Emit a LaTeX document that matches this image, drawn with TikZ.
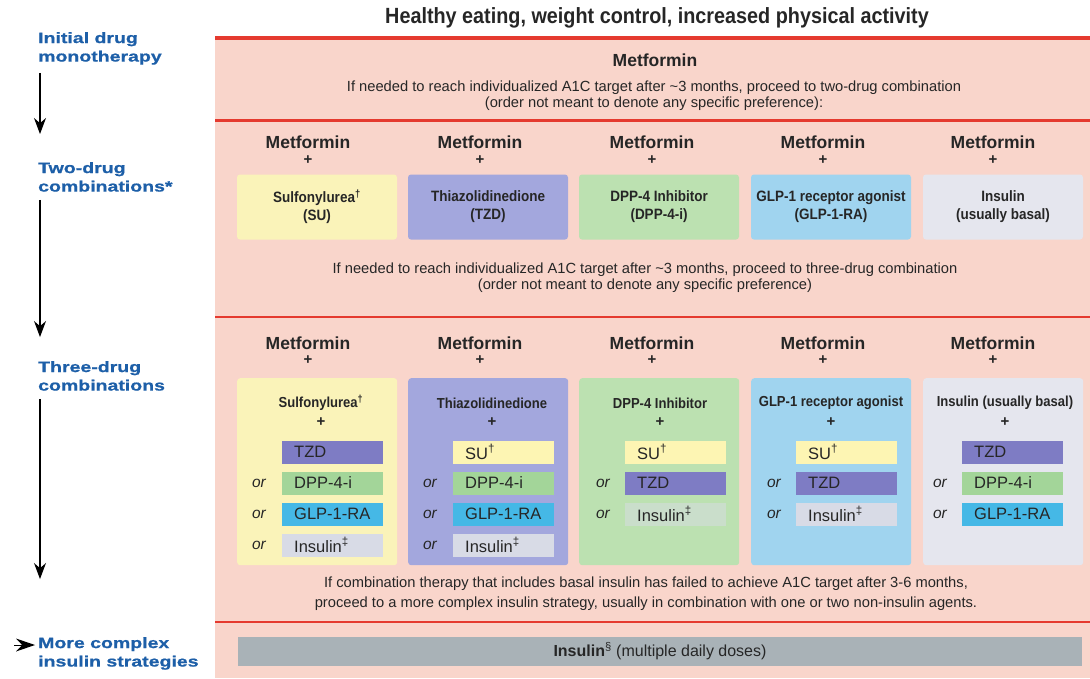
\documentclass[tikz,border=0pt]{standalone}
\usepackage{fontspec}
\setmainfont{Liberation Sans}
\newfontfamily\narrowfont{Liberation Sans}[FakeStretch=0.9]
\newfontfamily\widefont{Liberation Sans}[FakeStretch=1.3, BoldFeatures={FakeBold=0.8}]
\usetikzlibrary{arrows.meta}

\definecolor{bandpink}{HTML}{F9D5CB}
\definecolor{rulered}{HTML}{E53A2F}
\definecolor{labblue}{HTML}{1D5FA8}
\definecolor{inkgray}{HTML}{262626}
\definecolor{suyellow}{HTML}{FAF3B9}
\definecolor{supill}{HTML}{FDF5B3}
\definecolor{tzdblue}{HTML}{A3A7DD}
\definecolor{tzdpill}{HTML}{7E7CC4}
\definecolor{dppgreen}{HTML}{BCE1B1}
\definecolor{dpppill}{HTML}{A3D599}
\definecolor{glpblue}{HTML}{A0D4EF}
\definecolor{glppill}{HTML}{45B8E6}
\definecolor{insgray}{HTML}{E5E6EE}
\definecolor{inspill}{HTML}{D8DBE6}
\definecolor{barblue}{HTML}{A9B2B7}

\tikzset{
    steplabel/.style={anchor=north west, inner sep=0pt, align=left, text=labblue,
        font=\widefont\bfseries\fontsize{15}{18.5}\selectfont},
    metf/.style={inner sep=0pt, font=\bfseries\fontsize{17.5}{20}\selectfont},
    plussign/.style={inner sep=0pt, font=\bfseries\fontsize{15}{18}\selectfont},
    note/.style={align=center, inner sep=0pt, font=\fontsize{14.7}{16}\selectfont},
    twobox/.style={fill=#1, rounded corners=3pt, minimum width=160pt, minimum height=65pt,
        align=center, inner sep=0pt, font=\narrowfont\bfseries\fontsize{15}{18}\selectfont},
    tallbox/.style={fill=#1, rounded corners=3pt, minimum width=160pt, minimum height=187pt,
        anchor=north west, inner sep=0pt},
    colhead/.style={inner sep=0pt, font=\narrowfont\bfseries\fontsize{14.5}{18}\selectfont},
    pill/.style={fill=#1, anchor=west, minimum height=23pt, text width=77pt, inner xsep=12pt,
        inner ysep=0pt, font=\fontsize{16.5}{18}\selectfont},
    ortext/.style={inner sep=0pt, font=\itshape\fontsize{15.5}{18}\selectfont},
    flow/.style={-{Stealth[length=16pt,width=12pt]}, line width=1.1pt},
}

\begin{document}
\begin{tikzpicture}[x=1pt, y=-1pt, every node/.style={text=inkgray}]
    \useasboundingbox (0,0) rectangle (1090,678);
    % Pink band and the red rules between the steps.
        \fill[bandpink] (215,38) rectangle (1090,678);
        \draw[rulered, line width=3.5pt] (215,38) -- (1090,38);
        \draw[rulered, line width=3pt] (215,120) -- (1090,120);
        \draw[rulered, line width=2.5pt] (215,317) -- (1090,317);
        \draw[rulered, line width=2pt] (215,622) -- (1090,622);
    % Step labels on the left and the arrows between them.
        \node[steplabel] (initial) at (38,32) {Initial drug\\monotherapy};
        \node[steplabel] (twodrug) at (38,162) {Two-drug\\combinations*};
        \node[steplabel] (threedrug) at (38,361) {Three-drug\\combinations};
        \node[steplabel] (complex) at (38,637) {More complex\\insulin strategies};
        \draw[flow] ([xshift=2pt,yshift=-8pt]initial.south west) -- ([xshift=2pt,yshift=28pt]twodrug.north west);
        \draw[flow] ([xshift=2pt,yshift=-8pt]twodrug.south west) -- ([xshift=2pt,yshift=24pt]threedrug.north west);
        \draw[flow] ([xshift=2pt,yshift=-8pt]threedrug.south west) -- ([xshift=2pt,yshift=58pt]complex.north west);
        \draw[-{Stealth[length=19pt,width=13pt]}, line width=0pt] ([xshift=-24pt,yshift=-8pt]complex.north west) -- ([xshift=-3pt,yshift=-8pt]complex.north west);
    % Lifestyle header and metformin.
        \node[font=\narrowfont\bfseries\fontsize{22}{26}\selectfont, inner sep=0pt] (lifestyle) at (657,18)
            {Healthy eating, weight control, increased physical activity};
        \node[metf] (mono) at (655,60) {Metformin};
        \node[note] (mononote) at (654,96) {If needed to reach individualized A1C target after \textasciitilde3 months, proceed to two-drug combination\\(order not meant to denote any specific preference):};
    % Two-drug combinations.
        \foreach \x/\n in {308/su,480/tzd,652/dpp,823/glp,993/ins}{
            \node[metf] (twohead\n) at (\x,142) {Metformin};
            \node[plussign] (twoplus\n) at (\x,160) {+};
        }
        \node[twobox=suyellow] (twosu) at (317,207) {Sulfonylurea\textsuperscript{†}\\(SU)};
        \node[twobox=tzdblue] (twotzd) at (488,207) {Thiazolidinedione\\(TZD)};
        \node[twobox=dppgreen] (twodpp) at (659,207) {DPP-4 Inhibitor\\(DPP-4-i)};
        \node[twobox=glpblue] (twoglp) at (831,207) {GLP-1 receptor agonist\\(GLP-1-RA)};
        \node[twobox=insgray] (twoins) at (1003,207) {Insulin\\(usually basal)};
        \node[note] (twonote) at (645,278) {If needed to reach individualized A1C target after \textasciitilde3 months, proceed to three-drug combination\\(order not meant to denote any specific preference)};
    % Three-drug combinations.
        \foreach \x/\n in {308/su,480/tzd,652/dpp,823/glp,993/ins}{
            \node[metf] (threehead\n) at (\x,343) {Metformin};
            \node[plussign] (threeplus\n) at (\x,360) {+};
        }
        \node[tallbox=suyellow] (colsu) at (237,378) {};
        \node[tallbox=tzdblue] (coltzd) at (408,378) {};
        \node[tallbox=dppgreen] (coldpp) at (579,378) {};
        \node[tallbox=glpblue] (colglp) at (751,378) {};
        \node[tallbox=insgray] (colins) at (923,378) {};
        % sulfonylurea column
        \node[colhead] at (321,403) {Sulfonylurea\textsuperscript{†}};
        \node[plussign] at (321,422) {+};
        \node[pill=tzdpill] (su1) at (282,452) {TZD};
        \node[ortext] at (259,483) {or}; \node[pill=dpppill] (su2) at (282,483) {DPP-4-i};
        \node[ortext] at (259,514) {or}; \node[pill=glppill] (su3) at (282,514) {GLP-1-RA};
        \node[ortext] at (259,545) {or}; \node[pill=inspill] (su4) at (282,545) {Insulin\textsuperscript{‡}};
        % thiazolidinedione column
        \node[colhead] at (492,403) {Thiazolidinedione};
        \node[plussign] at (492,422) {+};
        \node[pill=supill] (tzd1) at (453,452) {SU\textsuperscript{†}};
        \node[ortext] at (430,483) {or}; \node[pill=dpppill] (tzd2) at (453,483) {DPP-4-i};
        \node[ortext] at (430,514) {or}; \node[pill=glppill] (tzd3) at (453,514) {GLP-1-RA};
        \node[ortext] at (430,545) {or}; \node[pill=inspill] (tzd4) at (453,545) {Insulin\textsuperscript{‡}};
        % DPP-4 inhibitor column
        \node[colhead] at (660,403) {DPP-4 Inhibitor};
        \node[plussign] at (660,422) {+};
        \node[pill=supill] (dpp1) at (625,452) {SU\textsuperscript{†}};
        \node[ortext] at (603,483) {or}; \node[pill=tzdpill] (dpp2) at (625,483) {TZD};
        \node[ortext] at (603,514) {or}; \node[pill=inspill!50!dppgreen] (dpp3) at (625,514) {Insulin\textsuperscript{‡}};
        % GLP-1 receptor agonist column
        \node[colhead] at (831,403) {GLP-1 receptor agonist};
        \node[plussign] at (831,422) {+};
        \node[pill=supill] (glp1) at (796,452) {SU\textsuperscript{†}};
        \node[ortext] at (774,483) {or}; \node[pill=tzdpill] (glp2) at (796,483) {TZD};
        \node[ortext] at (774,514) {or}; \node[pill=inspill] (glp3) at (796,514) {Insulin\textsuperscript{‡}};
        % insulin column
        \node[colhead] at (1005,403) {Insulin (usually basal)};
        \node[plussign] at (1005,422) {+};
        \node[pill=tzdpill] (ins1) at (962,452) {TZD};
        \node[ortext] at (940,483) {or}; \node[pill=dpppill] (ins2) at (962,483) {DPP-4-i};
        \node[ortext] at (940,514) {or}; \node[pill=glppill] (ins3) at (962,514) {GLP-1-RA};
        \node[note, font=\fontsize{14.7}{20}\selectfont] (threenote) at (646,594) {If combination therapy that includes basal insulin has failed to achieve A1C target after 3-6 months,\\proceed to a more complex insulin strategy, usually in combination with one or two non-insulin agents.};
    % More complex insulin strategies.
        \node[fill=barblue, minimum width=844pt, minimum height=29pt, inner sep=0pt, font=\fontsize{16}{19}\selectfont] (multibar) at (660,651)
            {\textbf{Insulin}\textsuperscript{§} (multiple daily doses)};
\end{tikzpicture}
\end{document}
